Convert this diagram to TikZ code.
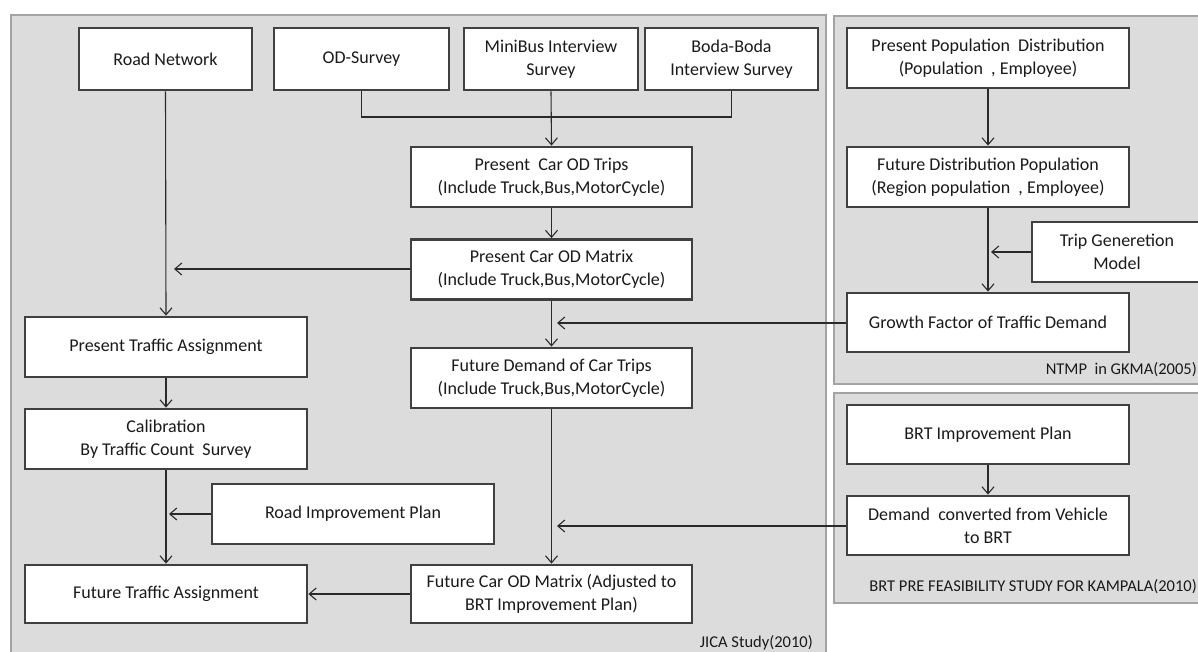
\documentclass[tikz,border=0pt]{standalone}
\usepackage{fontspec}
\setmainfont{Carlito}
\usetikzlibrary{arrows.meta,calc}
\definecolor{panelfill}{HTML}{DCDCDC}
\definecolor{paneledge}{HTML}{A3A3A3}
\definecolor{boxedge}{HTML}{404040}
\definecolor{wire}{HTML}{2A2A2A}
\definecolor{ink}{HTML}{1A1A1A}
\tikzset{
  panel/.style={fill=panelfill, draw=paneledge, line width=2.6pt},
  stepbox/.style={draw=boxedge, fill=white, line width=2.8pt, rectangle,
    inner sep=0pt, align=center, text=ink,
    font=\fontsize{18}{23}\selectfont},
  wirel/.style={draw=wire, line width=1.1pt},
  arr/.style={wirel, -{Straight Barb[length=7pt,width=12pt,line width=1.1pt]}},
  tag/.style={text=ink, font=\fontsize{16.5}{19}\selectfont, inner sep=0pt}
}
\begin{document}
\begin{tikzpicture}[x=1pt,y=-1pt]
\useasboundingbox (0,0) rectangle (1198,652);
\fill[white] (0,0) rectangle (1198,652);

% study panels
\draw[panel] (11,15) rectangle (826,670);
\draw[panel] (834,16) rectangle (1215,384);
\draw[panel] (834,393) rectangle (1215,603);

\node[tag, anchor=east] (jica) at (813,643) {JICA Study(2010)};
\node[tag, anchor=east] (ntmp) at (1197,370) {NTMP\ \ in GKMA(2005)};
\node[tag, anchor=east] (brtpfs) at (1197,587) {BRT PRE FEASIBILITY STUDY FOR KAMPALA(2010)};

% JICA study boxes
\node[stepbox, minimum width=173, minimum height=62] (road) at (165.5,59) {Road Network};
\node[stepbox, minimum width=175, minimum height=62] (od) at (361.5,59) {OD-Survey};
\node[stepbox, minimum width=174, minimum height=62] (minibus) at (551,59) {MiniBus Interview\\Survey};
\node[stepbox, minimum width=173, minimum height=62] (boda) at (731.5,59) {Boda-Boda\\Interview Survey};

\node[stepbox, minimum width=281, minimum height=60] (pctrips) at (551.5,177) {Present\ \ Car OD Trips\\(Include Truck,Bus,MotorCycle)};
\node[stepbox, minimum width=281, minimum height=60] (pcmatrix) at (551.5,269.5) {Present Car OD Matrix\\(Include Truck,Bus,MotorCycle)};
\node[stepbox, minimum width=281, minimum height=60] (fdemand) at (551.5,378) {Future Demand of Car Trips\\(Include Truck,Bus,MotorCycle)};
\node[stepbox, minimum width=281, minimum height=58] (fcod) at (551.5,594) {Future Car OD Matrix (Adjusted to\\BRT Improvement Plan)};

\node[stepbox, minimum width=282, minimum height=60] (pta) at (166,347) {Present Traffic Assignment};
\node[stepbox, minimum width=282, minimum height=60] (calib) at (166,439) {Calibration\\By Traffic Count\ \ Survey};
\node[stepbox, minimum width=282, minimum height=60] (rip) at (353,514) {Road Improvement Plan};
\node[stepbox, minimum width=282, minimum height=58] (fta) at (166,594) {Future Traffic Assignment};

% NTMP boxes
\node[stepbox, minimum width=282, minimum height=60] (ppd) at (988,58) {Present Population\ \ Distribution\\(Population\ \ , Employee)};
\node[stepbox, minimum width=282, minimum height=60] (fdp) at (988,177) {Future Distribution Population\\(Region population\ \ , Employee)};
\node[stepbox, minimum width=170, minimum height=60] (tgm) at (1117,252) {Trip Generetion\\Model};
\node[stepbox, minimum width=282, minimum height=59] (gf) at (988,322.5) {Growth Factor of Traffic Demand};

% BRT study boxes
\node[stepbox, minimum width=282, minimum height=59] (brt) at (988,434.5) {BRT Improvement Plan};
\node[stepbox, minimum width=282, minimum height=59] (dcv) at (988,525.5) {Demand\ \ converted from Vehicle\\to BRT};

% junction points on the flow lines
\coordinate (jy) at (0,117);
\coordinate (pmTip) at (174,269);
\coordinate (ripTip) at (169,514);
\coordinate (gfTip) at (557,323);
\coordinate (dcvTip) at (557,526);
\coordinate (tgmTip) at (991,252);

% survey inputs merge into present trips
\draw[wirel] (od.south) -- (od.south |- jy) -- (boda.south |- jy) -- (boda.south);
\draw[arr] (minibus.south) -- (pctrips.north);

% central chain
\draw[arr] (pctrips.south) -- (pcmatrix.north);
\draw[arr] (pcmatrix.south) -- (fdemand.north);
\draw[arr] (fdemand.south) -- (fcod.north);
\draw[arr] (pcmatrix.west |- pmTip) -- (pmTip);
\draw[arr] (gf.west |- gfTip) -- (gfTip);
\draw[arr] (dcv.west |- dcvTip) -- (dcvTip);
\draw[arr] (fcod.west) -- (fta.east);

% assignment chain
\draw[arr] (road.south) -- (pta.north);
\draw[arr] (pta.south) -- (calib.north);
\draw[arr] (calib.south) -- (fta.north);
\draw[arr] (rip.west) -- (ripTip);

% population chain
\draw[arr] (ppd.south) -- (fdp.north);
\draw[arr] (fdp.south) -- (gf.north);
\draw[arr] (tgm.west) -- (tgmTip);

% BRT chain
\draw[arr] (brt.south) -- (dcv.north);
\end{tikzpicture}
\end{document}
